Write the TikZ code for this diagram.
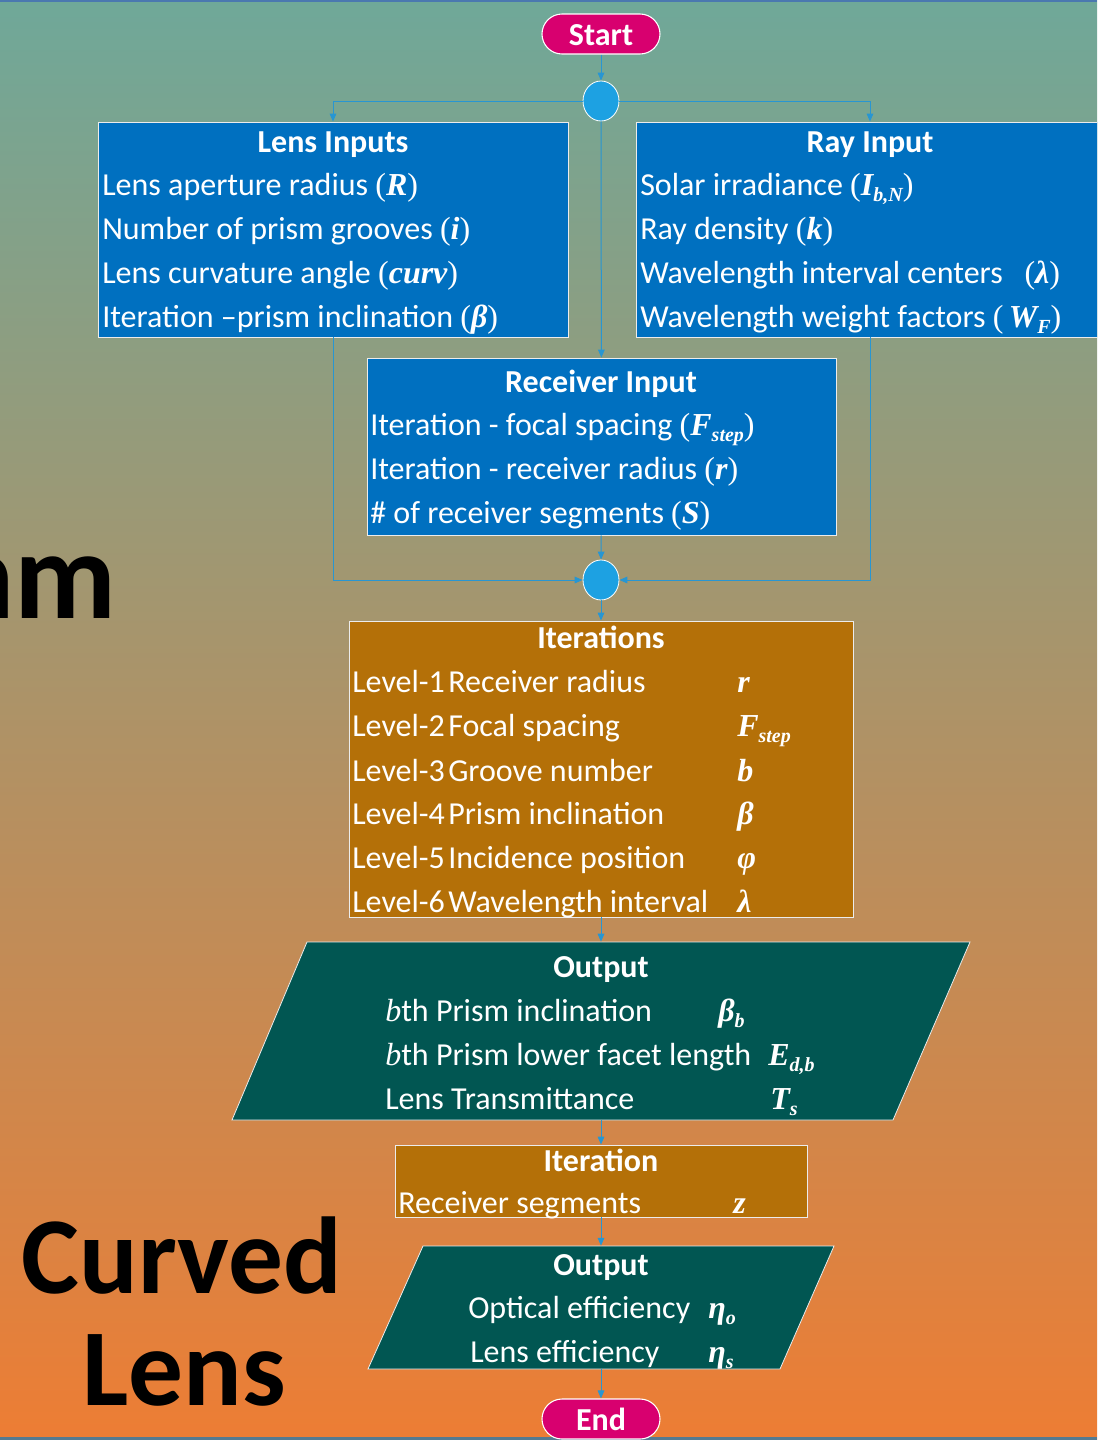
\documentclass[tikz,border=0pt]{standalone}
\usepackage{fontspec}
\setmainfont{Carlito}
\newfontfamily\tnr{Liberation Serif}
\usetikzlibrary{fit,shapes.geometric,arrows.meta}

\definecolor{bgtop}{RGB}{111,168,153}
\definecolor{bgmid}{RGB}{182,148,118}
\definecolor{bgbot}{RGB}{237,125,52}
\definecolor{boxblue}{RGB}{0,112,192}
\definecolor{iterfill}{RGB}{180,112,8}
\definecolor{outfill}{RGB}{1,86,82}
\definecolor{pillfill}{RGB}{216,0,111}
\definecolor{dotfill}{RGB}{29,161,226}
\definecolor{conncol}{RGB}{40,150,210}
\definecolor{edgetop}{RGB}{74,120,176}
\definecolor{edgebot}{RGB}{85,122,144}

\newcommand\tf{\fontsize{24}{24}\selectfont}
\newcommand\vv[1]{{\tnr\bfseries\itshape #1}}
\newcommand\sbs[1]{\raisebox{-0.4ex}{\fontsize{15}{15}\selectfont\tnr\bfseries\itshape #1}}
\newcommand\lp{{\tnr(}}
\newcommand\rp{{\tnr)}}

\begin{document}
\begin{tikzpicture}[x=0.75pt,y=-0.75pt,
  txt/.style={anchor=base west, inner sep=0pt, text=white, font=\tf},
  ttl/.style={anchor=base, inner sep=0pt, text=white, font=\tf\bfseries},
  sym/.style={anchor=base west, inner sep=0pt, text=white, font=\tf},
  bluebox/.style={fill=boxblue, draw=white!85!gray, line width=0.6pt, inner sep=0pt},
  iterbox/.style={fill=iterfill, draw=white!85!gray, line width=0.6pt, inner sep=0pt},
  outshape/.style={fill=outfill, draw=white!85!gray, line width=0.6pt},
  pill/.style={fill=pillfill, draw=white, line width=0.8pt, rounded corners=15pt, inner sep=0pt},
  dot/.style={ellipse, fill=dotfill, draw=white, line width=0.6pt, minimum width=27pt, minimum height=30pt, inner sep=0pt},
  conn/.style={draw=conncol, line width=0.75pt, -{Triangle[length=6pt,width=5pt]}},
  big/.style={inner sep=0pt, font=\fontsize{82}{82}\selectfont\bfseries, text=black}
]
\useasboundingbox (0,0) rectangle (1097,1440);
\clip (0,0) rectangle (1097,1440);
\shade[top color=bgtop, middle color=bgmid, bottom color=bgbot] (0,0) rectangle (1097,1440);
\fill[edgetop] (0,0) rectangle (1097,2);
\fill[edgebot] (0,1437) rectangle (1097,1440);

% big background words
\node[big, anchor=base east, font=\fontsize{94}{94}\selectfont\bfseries] (bgword) at (117,618) {hm};
\node[big, anchor=base] (curved) at (182,1293) {Curved};
\node[big, anchor=base] (lensword) at (184,1405) {Lens};

% start and first junction
\node[pill, fit={(542,14)(660,54)}] (start) {};
\node[ttl] (startT) at (601,45) {Start};
\node[dot] (c1) at (601,101) {};

% Lens inputs
\node[bluebox, fit={(98,122)(568,337)}] (lens) {};
\node[ttl] (lensT) at (333,152) {Lens Inputs};
\node[txt] (l1) at (102,195) {Lens aperture radius \lp\vv{R}\rp};
\node[txt] (l2) at (102,239) {Number of prism grooves \lp\vv{i}\rp};
\node[txt] (l3) at (102,283) {Lens curvature angle \lp\vv{curv}\rp};
\node[txt] (l4) at (102,327) {Iteration –prism inclination \lp\vv{β}\rp};

% Ray input
\node[bluebox, fit={(636,122)(1104,337)}] (ray) {};
\node[ttl] (rayT) at (870,152) {Ray Input};
\node[txt] (r1) at (640,195) {Solar irradiance \lp\vv{I}\sbs{b,N}\rp};
\node[txt] (r2) at (640,239) {Ray density \lp\vv{k}\rp};
\node[txt] (r3) at (640,283) {Wavelength interval centers\ \ \ \lp\vv{λ}\rp};
\node[txt] (r4) at (640,327) {Wavelength weight factors \lp\,\vv{W}\sbs{F}\rp};

% Receiver input
\node[bluebox, fit={(367,358)(836,535)}] (rec) {};
\node[ttl] (recT) at (601,392) {Receiver Input};
\node[txt] (q1) at (370,435) {Iteration - focal spacing \lp\vv{F}\sbs{step}\rp};
\node[txt] (q2) at (370,479) {Iteration - receiver radius \lp\vv{r}\rp};
\node[txt] (q3) at (370,523) {\# of receiver segments \lp\vv{S}\rp};

\node[dot] (c2) at (601,580) {};

% Iterations
\node[iterbox, fit={(349,621)(853,917)}] (iters) {};
\node[ttl] (itT) at (601,648) {Iterations};
\foreach \y/\lv/\nm/\sy [count=\k] in {
  692/1/Receiver radius/\vv{r},
  736/2/Focal spacing/\vv{F}\sbs{step},
  781/3/Groove number/\vv{b},
  824/4/Prism inclination/\vv{β},
  868/5/Incidence position/\vv{φ},
  912/6/Wavelength interval/\vv{λ}}{
  \node[txt] (lv\k) at (352,\y) {Level-\lv};
  \node[txt] (nm\k) at (448,\y) {\nm};
  \node[sym] (sy\k) at (737,\y) {\sy};
}

% Output 1
\fill[outshape] (232,1120) -- (307,942) -- (970,942) -- (893,1120) -- cycle;
\node[inner sep=0pt, fit={(232,942)(970,1120)}] (out1) {};
\node[ttl] (o1T) at (601,977) {Output};
\node[txt] (o11) at (385,1021) {{\tnr\itshape b}th Prism inclination};
\node[sym] (o11s) at (718,1021) {\vv{β}\sbs{b}};
\node[txt] (o12) at (385,1065) {{\tnr\itshape b}th Prism lower facet length};
\node[sym] (o12s) at (768,1065) {\vv{E}\sbs{d,b}};
\node[txt] (o13) at (385,1109) {Lens Transmittance};
\node[sym] (o13s) at (770,1109) {\vv{T}\sbs{s}};

% Iteration
\node[iterbox, fit={(395,1145)(807,1217)}] (iter2) {};
\node[ttl] (i2T) at (601,1171) {Iteration};
\node[txt] (i21) at (398,1213) {Receiver segments};
\node[sym] (i21s) at (733,1213) {\vv{z}};

% Output 2
\fill[outshape] (368,1369) -- (423,1246) -- (834,1246) -- (780,1369) -- cycle;
\node[inner sep=0pt, fit={(368,1246)(834,1369)}] (out2) {};
\node[ttl] (o2T) at (601,1275) {Output};
\node[txt] (o21) at (468,1318) {Optical efficiency};
\node[sym] (o21s) at (708,1318) {\vv{η}\sbs{o}};
\node[txt] (o22) at (470,1362) {Lens efficiency};
\node[sym] (o22s) at (708,1362) {\vv{η}\sbs{s}};

\node[pill, fit={(542,1399)(660,1439)}] (end) {};
\node[ttl] (endT) at (601,1430) {End};

% connectors
\draw[conn] (start) -- (c1);
\draw[conn] (c1) -| (lens.north);
\draw[conn] (c1) -| (ray.north);
\draw[conn] (c1) -- (rec);
\draw[conn] (lens.south) |- (c2);
\draw[conn] (ray.south) |- (c2);
\draw[conn] (rec) -- (c2);
\draw[conn] (c2) -- (iters);
\draw[conn] (iters) -- (out1);
\draw[conn] (out1) -- (iter2);
\draw[conn] (iter2) -- (out2);
\draw[conn] (out2) -- (end);
\end{tikzpicture}
\end{document}
